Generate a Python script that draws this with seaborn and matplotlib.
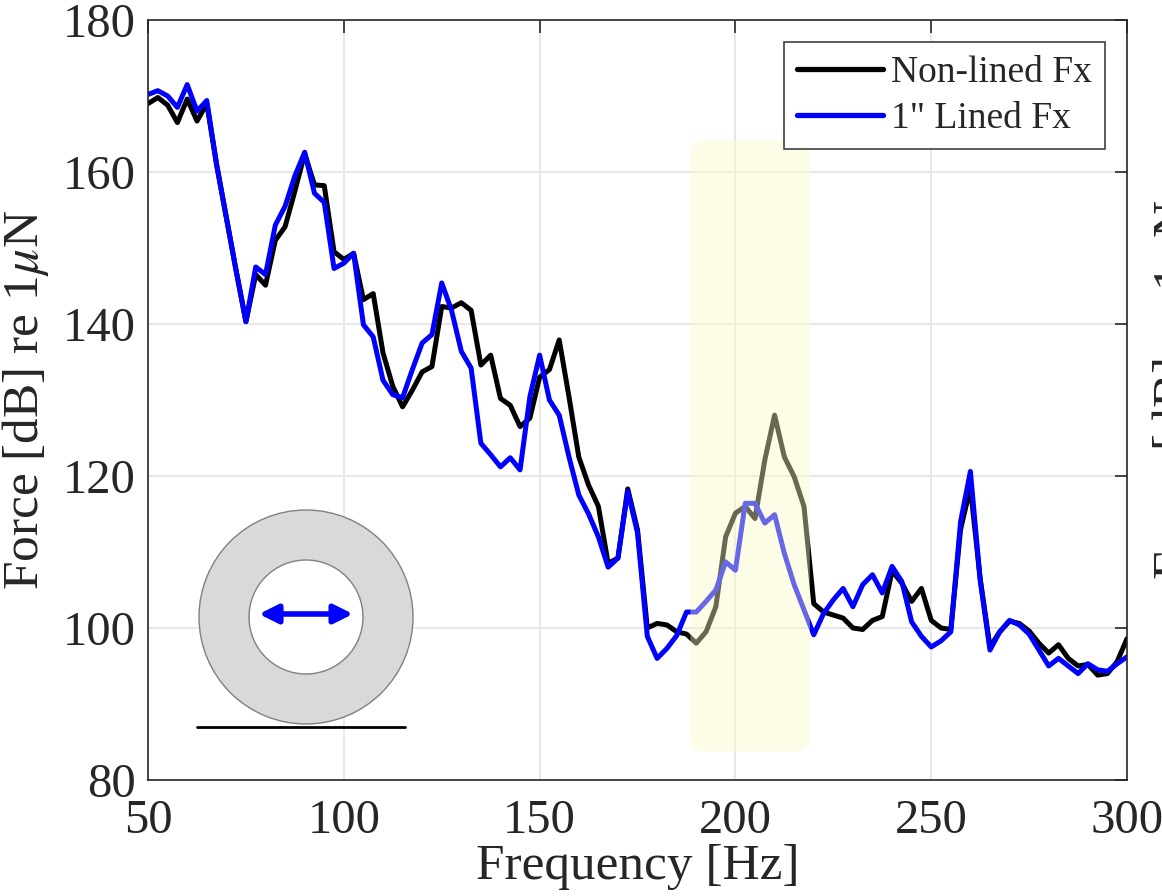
import numpy as np
import matplotlib
matplotlib.use("Agg")
import matplotlib.pyplot as plt
import seaborn as sns
from matplotlib.patches import Circle, FancyBboxPatch

# frequency bins [Hz], 2.5 Hz spacing
freq = np.linspace(50, 300, 101)

# force levels [dB re 1 uN]
nonlined_fx = [
    169.0, 169.8, 168.8, 166.5, 169.6, 166.7, 169.0, 161.0, 154.0, 147.0,
    140.3, 146.5, 145.1, 151.0, 152.8, 157.5, 162.4, 158.3, 158.2, 149.5,
    148.5, 149.3, 143.2, 144.0, 136.2, 131.8, 129.1, 131.3, 133.7, 134.4,
    142.3, 142.1, 142.8, 141.8, 134.6, 135.9, 130.2, 129.3, 126.5, 127.6,
    133.0, 134.0, 137.9, 130.4, 122.5, 118.8, 116.0, 108.5, 109.2, 118.3,
    112.9, 100.0, 100.6, 100.4, 99.5, 99.2, 98.0, 99.5, 102.8, 112.0,
    115.1, 116.0, 114.4, 122.1, 128.0, 122.5, 119.9, 116.0, 103.2, 102.1,
    101.7, 101.3, 100.0, 99.8, 101.0, 101.5, 107.5, 105.9, 103.5, 105.2,
    101.0, 100.0, 99.8, 113.0, 118.5, 106.5, 97.5, 99.5, 100.9, 100.6,
    99.6, 98.0, 96.7, 97.8, 96.0, 95.0, 95.2, 93.8, 94.0, 95.6,
    98.6,
]
lined_fx = [
    170.2, 170.7, 170.0, 168.5, 171.5, 168.0, 169.4, 161.0, 154.0, 147.0,
    140.3, 147.5, 146.5, 153.0, 155.5, 159.5, 162.6, 157.2, 156.0, 147.3,
    148.0, 149.3, 139.9, 138.3, 132.6, 130.7, 130.3, 134.0, 137.5, 138.6,
    145.4, 141.8, 136.4, 134.2, 124.3, 122.8, 121.2, 122.4, 120.8, 130.4,
    135.9, 130.0, 128.0, 122.5, 117.5, 115.0, 112.0, 108.0, 109.2, 118.0,
    112.5, 98.9, 96.0, 97.3, 99.0, 102.1, 102.1, 103.5, 105.0, 108.7,
    107.6, 116.4, 116.4, 113.8, 114.9, 109.8, 105.7, 102.4, 99.1, 101.9,
    103.7, 105.2, 102.8, 105.7, 107.0, 104.6, 108.1, 106.1, 100.8, 98.9,
    97.5, 98.3, 99.5, 114.0, 120.6, 106.3, 97.1, 99.5, 101.0, 100.4,
    99.2, 97.1, 95.0, 96.0, 95.0, 94.0, 95.3, 94.5, 94.3, 95.3,
    96.2,
]
series_labels = ["Non-lined Fx", '1" Lined Fx']
x_ticks = [50, 100, 150, 200, 250, 300]
y_ticks = [80, 100, 120, 140, 160, 180]

# highlighted band (Hz range, dB range)
band_f = (188.5, 219.0)
band_db = (83.7, 164.2)

sns.set_theme(style="whitegrid")
plt.rcParams["font.family"] = ["Liberation Serif", "DejaVu Serif"]
plt.rcParams["mathtext.fontset"] = "stix"

dark = "#262626"
fig = plt.figure(figsize=(11.62, 8.96), dpi=100)
ax = fig.add_axes([0.1274, 0.1295, 0.8425, 0.8482])

sns.lineplot(x=freq, y=nonlined_fx, color="black", lw=3.6, ax=ax, label=series_labels[0], zorder=2)
sns.lineplot(x=freq, y=lined_fx, color="blue", lw=3.6, ax=ax, label=series_labels[1], zorder=2.1)

# semi transparent yellow box drawn over the curves
band = FancyBboxPatch((band_f[0], band_db[0]), band_f[1] - band_f[0], band_db[1] - band_db[0],
                      boxstyle="round,pad=0,rounding_size=4", mutation_aspect=0.515,
                      fc=(0.98, 0.98, 0.78), ec="none", alpha=0.42, zorder=3)
ax.add_patch(band)

ax.set_xlim(50, 300)
ax.set_ylim(80, 180)
ax.set_xticks(x_ticks)
ax.set_yticks(y_ticks)
ax.set_facecolor("white")
ax.grid(True, color="#e3e3e3", lw=1.2)
for s in ax.spines.values():
    s.set_visible(True)
    s.set_color(dark)
    s.set_linewidth(1.2)
ax.tick_params(direction="in", length=9, width=1.2, top=True, right=True,
               labelsize=35, colors=dark)
ax.tick_params(axis="x", pad=14)
ax.tick_params(axis="y", pad=9)
ax.set_xlabel("Frequency [Hz]", fontsize=37, color=dark, labelpad=0)
ax.set_ylabel(r"Force [dB] re 1$\mu$N", fontsize=37, color=dark, labelpad=8)

leg = ax.legend(loc="upper right", fontsize=27, frameon=True, fancybox=False,
                edgecolor="#404040", framealpha=1, handlelength=2.3, handletextpad=0.2,
                labelspacing=0.3, borderpad=0.35, borderaxespad=0.6)
leg.get_frame().set_linewidth(1.2)
leg.set_zorder(10)
for line in leg.get_lines():
    line.set_linewidth(3.8)

# label of the neighbouring panel, clipped at the right edge
fig.text(1150 / 1162, 0.565, r"Force [dB] re 1$\mu$N", rotation=90, ha="left", va="center",
         fontsize=37, color=dark)

# pipe cross-section sketch (pixel-like coordinates)
ins = fig.add_axes([190 / 1162, 1 - 740 / 896, 230 / 1162, 240 / 896], zorder=5)
ins.set_xlim(190, 420)
ins.set_ylim(740, 500)
ins.axis("off")
ins.add_patch(Circle((306, 617), 107, fc="#d9d9d9", ec="#808080", lw=1))
ins.add_patch(Circle((306, 617), 57, fc="white", ec="#808080", lw=1))
ins.annotate("", xy=(353, 614), xytext=(259, 614),
             arrowprops=dict(arrowstyle="<|-|>", color="blue", lw=4, mutation_scale=28,
                             shrinkA=0, shrinkB=0))
ins.plot([197, 405], [727, 727], color="black", lw=2)

fig.savefig("out.png", dpi=100)
